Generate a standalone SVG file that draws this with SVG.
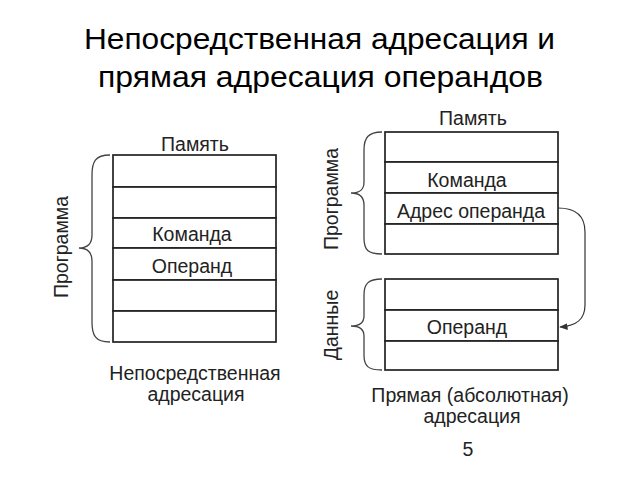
<svg xmlns="http://www.w3.org/2000/svg" width="640" height="480" viewBox="0 0 640 480">
<defs>
<style>
text{font-family:"Liberation Sans",Arial,sans-serif;fill:#222}
.t{font-size:29px;fill:#000}
.l{font-size:19.5px}
.c{text-anchor:middle}
.cell{fill:#fff;stroke:#222;stroke-width:1.7}
.br{fill:none;stroke:#444;stroke-width:1.3}
.con{fill:none;stroke:#333;stroke-width:1.2}
</style>
<marker id="ah" viewBox="0 0 10 10" refX="9" refY="5" markerWidth="7" markerHeight="7" orient="auto"><path d="M0,1 L10,5 L0,9 z" fill="#333"/></marker>
</defs>
<rect width="640" height="480" fill="#fff"/>
<text class="t c" x="319.5" y="49" textLength="471" lengthAdjust="spacingAndGlyphs">Непосредственная адресация и</text>
<text class="t c" x="320.5" y="87" textLength="445" lengthAdjust="spacingAndGlyphs">прямая адресация операндов</text>

<g id="left-memory">
<text class="l c" x="195" y="151">Память</text>
<rect class="cell" x="113" y="155" width="163" height="32"/>
<rect class="cell" x="113" y="187" width="163" height="31"/>
<rect class="cell" x="113" y="218" width="163" height="30"/>
<rect class="cell" x="113" y="248" width="163" height="32"/>
<rect class="cell" x="113" y="280" width="163" height="31"/>
<rect class="cell" x="113" y="311" width="163" height="31"/>
<text class="l c" x="192" y="241">Команда</text>
<text class="l c" x="192" y="273">Операнд</text>
</g>
<g id="left-brace">
<path class="br" d="M110,155 C95,155 92,162 92,175 L92,235 C92,244 88,248 79,248 C88,248 92,252 92,261 L92,322 C92,335 95,342 110,342"/>
<text class="l c" transform="translate(62,247) rotate(-90)" y="6">Программа</text>
</g>
<g id="left-caption">
<text class="l c" x="195" y="380">Непосредственная</text>
<text class="l c" x="196" y="401">адресация</text>
</g>

<g id="right-program">
<text class="l c" x="473" y="125">Память</text>
<rect class="cell" x="385" y="132" width="173" height="30"/>
<rect class="cell" x="385" y="162" width="173" height="31"/>
<rect class="cell" x="385" y="193" width="173" height="31"/>
<rect class="cell" x="385" y="224" width="173" height="30"/>
<text class="l c" x="467" y="187">Команда</text>
<text class="l c" x="471" y="218">Адрес операнда</text>
</g>
<g id="right-program-brace">
<path class="br" d="M382,132 C368,132 364,138 364,150 L364,182 C364,190 360,193 351,193 C360,193 364,197 364,205 L364,238 C364,250 368,254 382,254"/>
<text class="l c" transform="translate(332,199) rotate(-90)" y="6">Программа</text>
</g>
<g id="right-data">
<rect class="cell" x="385" y="279" width="173" height="31"/>
<rect class="cell" x="385" y="310" width="173" height="31"/>
<rect class="cell" x="385" y="341" width="173" height="29"/>
<text class="l c" x="467" y="334">Операнд</text>
</g>
<g id="right-data-brace">
<path class="br" d="M382,279 C368,279 364,284 364,295 L364,316 C364,323 360,326 351,326 C360,326 364,329 364,336 L364,355 C364,366 368,370 382,370"/>
<text class="l c" transform="translate(332,325) rotate(-90)" y="6">Данные</text>
</g>
<g id="connectors">
<path class="con" marker-end="url(#ah)" d="M558,208 C576,208 585,216 585,232 L585,305 C585,320 576,326 560,327"/>
</g>
<g id="right-caption">
<text class="l c" x="470" y="402">Прямая (абсолютная)</text>
<text class="l c" x="472" y="423">адресация</text>
</g>
<text class="l c" x="468" y="456">5</text>
</svg>
